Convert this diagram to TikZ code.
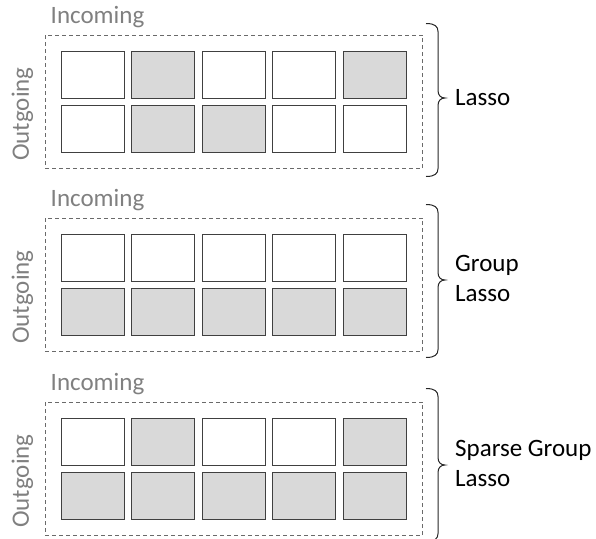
\documentclass[tikz,border=0pt]{standalone}
\usepackage{fontspec}
\setmainfont{Carlito}
\usetikzlibrary{fit}
\definecolor{cellfill}{HTML}{D9D9D9}
\definecolor{cellline}{HTML}{404040}
\definecolor{boxline}{HTML}{6A6A6A}
\definecolor{axistext}{HTML}{808080}
\tikzset{
  cell/.style={draw=cellline, line width=1.3pt, fill=white, inner sep=0pt, outer sep=0pt,
    minimum width=63pt, minimum height=47pt},
  on/.style={cell, fill=cellfill},
  grid/.style={anchor=north west, inner sep=0pt, outer sep=0pt, column sep=6.25pt, row sep=6pt},
  dashbox/.style={draw=boxline, line width=1pt, dash pattern=on 4pt off 3pt, inner sep=15.5pt},
  inlbl/.style={text=axistext, inner sep=0pt, anchor=west, font=\fontsize{25}{30}\selectfont},
  outlbl/.style={inlbl, anchor=center, rotate=90},
  penalty/.style={inner sep=0pt, anchor=west, align=left, font=\fontsize{25}{30}\selectfont},
  sidebrace/.style={draw=black!85, line width=1pt}
}
\begin{document}
\begin{tikzpicture}[x=1pt,y=-1pt]
    \useasboundingbox (0,0) rectangle (596,538);
    % lasso
    \matrix[grid] (M_1) at (60.5,50.5)
    {
        \node[cell](A_1) {}; & \node[on](A_2) {};   & \node[cell](A_3) {}; & \node[cell](A_4) {}; & \node[on](A_5) {};   \\
        \node[cell](A_6) {}; & \node[on](A_7) {};   & \node[on](A_8) {};   & \node[cell](A_9) {}; & \node[cell](A_10) {}; \\
    };
    \node[dashbox, fit=(M_1)] (box1) {};
    \node[inlbl] (in1) at ([xshift=6pt,yshift=17pt]box1.north west) {Incoming};
    \node[outlbl] (out1) at ([xshift=-22pt,yshift=-79.5pt]box1.north west) {Outgoing};
    \coordinate (bt1) at ([xshift=3pt,yshift=11pt]box1.north east);
    \coordinate (tip1) at ([xshift=22pt,yshift=4pt]box1.east);
    \draw[sidebrace] (bt1) .. controls +(9,0) and +(0,-5) .. ++(12,8) -- ++(0,59)
        .. controls +(0,5) and +(-4,0) .. ++(7,7.5) .. controls +(-4,0) and +(0,-5) .. ++(-7,7.5)
        -- ++(0,63) .. controls +(0,5) and +(9,0) .. ++(-12,8);
    \node[penalty] (p1) at ([xshift=10pt]tip1) {Lasso};

    % group lasso
    \matrix[grid] (M_2) at (60.5,233.5)
    {
        \node[cell](B_1) {}; & \node[cell](B_2) {}; & \node[cell](B_3) {}; & \node[cell](B_4) {}; & \node[cell](B_5) {}; \\
        \node[on](B_6) {};   & \node[on](B_7) {};   & \node[on](B_8) {};   & \node[on](B_9) {};   & \node[on](B_10) {};  \\
    };
    \node[dashbox, fit=(M_2)] (box2) {};
    \node[inlbl] (in2) at ([xshift=6pt,yshift=17pt]box2.north west) {Incoming};
    \node[outlbl] (out2) at ([xshift=-22pt,yshift=-79.5pt]box2.north west) {Outgoing};
    \coordinate (bt2) at ([xshift=3pt,yshift=13pt]box2.north east);
    \coordinate (tip2) at ([xshift=22pt,yshift=6pt]box2.east);
    \draw[sidebrace] (bt2) .. controls +(9,0) and +(0,-5) .. ++(12,8) -- ++(0,60)
        .. controls +(0,5) and +(-4,0) .. ++(7,7.5) .. controls +(-4,0) and +(0,-5) .. ++(-7,7.5)
        -- ++(0,62) .. controls +(0,5) and +(9,0) .. ++(-12,8);
    \node[penalty] (p2) at ([xshift=10pt]tip2) {Group\\Lasso};

    % sparse group lasso
    \matrix[grid] (M_3) at (60.5,417.5)
    {
        \node[cell](C_1) {}; & \node[on](C_2) {};   & \node[cell](C_3) {}; & \node[cell](C_4) {}; & \node[on](C_5) {};   \\
        \node[on](C_6) {};   & \node[on](C_7) {};   & \node[on](C_8) {};   & \node[on](C_9) {};   & \node[on](C_10) {};  \\
    };
    \node[dashbox, fit=(M_3)] (box3) {};
    \node[inlbl] (in3) at ([xshift=6pt,yshift=17pt]box3.north west) {Incoming};
    \node[outlbl] (out3) at ([xshift=-22pt,yshift=-79.5pt]box3.north west) {Outgoing};
    \coordinate (bt3) at ([xshift=3pt,yshift=13pt]box3.north east);
    \coordinate (tip3) at ([xshift=22pt,yshift=5pt]box3.east);
    \draw[sidebrace] (bt3) .. controls +(9,0) and +(0,-5) .. ++(12,8) -- ++(0,61)
        .. controls +(0,5) and +(-4,0) .. ++(7,7.5) .. controls +(-4,0) and +(0,-5) .. ++(-7,7.5)
        -- ++(0,61) .. controls +(0,5) and +(9,0) .. ++(-12,8);
    \node[penalty] (p3) at ([xshift=10pt]tip3) {Sparse Group\\Lasso};
\end{tikzpicture}
\end{document}
